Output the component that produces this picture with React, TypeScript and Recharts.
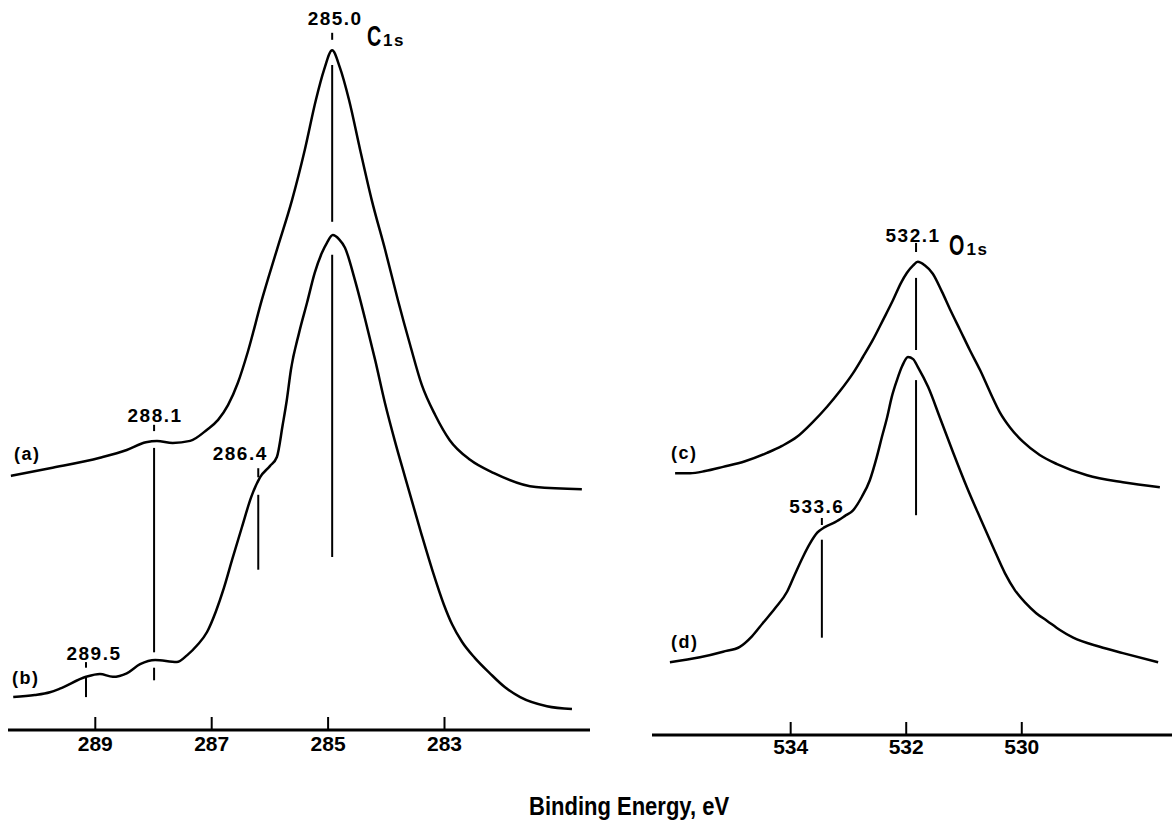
import { LineChart, Line, XAxis, YAxis, ReferenceLine } from 'recharts';

// XPS spectra, binding energy (eV) vs intensity (arb. units, 0-100)
// C 1s region
const curveA: [number, number][] = [
  [290.45, 36.3], [289.78, 37.4], [288.92, 38.9], [288.46, 40.0], [288.13, 41.1],
  [287.94, 41.3], [287.67, 41.0], [287.37, 41.3], [287.08, 42.9], [286.89, 44.3],
  [286.72, 46.4], [286.55, 49.6], [286.38, 54.0], [286.14, 61.4], [285.88, 68.6],
  [285.62, 75.7], [285.4, 82.9], [285.21, 90.0], [285.07, 94.3], [284.93, 97.1],
  [284.8, 94.7], [284.64, 90.0], [284.45, 82.9], [284.25, 75.7], [284.02, 68.6],
  [283.8, 61.4], [283.59, 55.0], [283.39, 49.3], [283.16, 45.0], [282.91, 41.4],
  [282.56, 38.6], [282.15, 36.7], [281.43, 34.7], [280.64, 34.4],
];
const curveB: [number, number][] = [
  [290.41, 4.7], [290.04, 5.0], [289.78, 5.4], [289.61, 5.9], [289.16, 7.6],
  [288.92, 8.0], [288.7, 7.6], [288.46, 8.1], [288.23, 9.4], [287.97, 10.0],
  [287.6, 9.7], [287.42, 10.7], [287.25, 12.1], [287.08, 14.0], [286.93, 16.9],
  [286.79, 20.3], [286.65, 24.3], [286.48, 29.0], [286.32, 33.3], [286.17, 36.1],
  [286.0, 37.7], [285.88, 39.0], [285.78, 43.6], [285.71, 47.1], [285.64, 51.4],
  [285.5, 56.7], [285.36, 61.1], [285.23, 65.3], [285.11, 68.1], [285.02, 69.6],
  [284.92, 70.7], [284.81, 70.1], [284.71, 68.9], [284.54, 64.3], [284.37, 58.9],
  [284.19, 52.8], [284.02, 46.6], [283.85, 41.2], [283.68, 36.2], [283.4, 28.1],
  [283.2, 22.6], [283.01, 17.9], [282.87, 15.1], [282.7, 12.6], [282.48, 10.3],
  [282.22, 8.1], [281.96, 6.1], [281.7, 4.7], [281.24, 3.4], [280.81, 3.0],
];
// O 1s region
const curveC: [number, number][] = [
  [536.0, 37.4], [535.74, 37.4], [535.48, 37.7], [535.17, 38.3], [534.79, 39.1],
  [534.41, 40.3], [534.15, 41.3], [533.89, 42.6], [533.63, 44.6], [533.37, 46.9],
  [533.15, 49.1], [532.92, 51.7], [532.75, 54.0], [532.58, 56.4], [532.4, 59.3],
  [532.23, 62.1], [532.09, 64.6], [531.99, 66.0], [531.88, 67.1], [531.8, 67.6],
  [531.68, 67.1], [531.54, 65.9], [531.38, 63.3], [531.23, 60.6], [531.07, 57.9],
  [530.9, 55.0], [530.72, 52.1], [530.55, 49.0], [530.38, 46.1], [530.2, 43.9],
  [529.98, 41.9], [529.69, 40.0], [529.39, 38.7], [528.87, 37.1], [528.25, 36.1],
  [527.61, 35.4],
];
const curveD: [number, number][] = [
  [536.09, 10.4], [535.57, 11.1], [535.17, 11.9], [534.88, 12.6], [534.67, 14.1],
  [534.48, 16.0], [534.27, 18.1], [534.06, 20.5], [533.93, 22.9], [533.79, 25.4],
  [533.67, 27.3], [533.54, 28.9], [533.41, 29.7], [533.23, 30.4], [533.06, 31.3],
  [532.92, 32.1], [532.77, 34.0], [532.63, 36.4], [532.51, 39.7], [532.42, 42.6],
  [532.33, 45.4], [532.25, 48.3], [532.16, 50.7], [532.07, 52.7], [531.97, 54.0],
  [531.88, 53.7], [531.8, 52.6], [531.62, 49.7], [531.42, 45.4], [531.19, 40.4],
  [530.95, 35.4], [530.72, 31.0], [530.5, 26.9], [530.29, 23.1], [530.12, 20.7],
  [529.94, 18.9], [529.75, 17.4], [529.56, 16.3], [529.34, 15.0], [529.11, 13.9],
  [528.65, 12.6], [528.25, 11.7], [527.64, 10.4],
];

const c1sTicks = [289, 287, 285, 283];
const o1sTicks = [534, 532, 530];
const c1sRange: [number, number] = [280.5, 290.5];
const o1sRange: [number, number] = [527.4, 536.4];

// peak markers: energy, label, vertical pieces as [from, to] intensity
const c1sMarks = [
  { e: 284.93, label: '285.0', segs: [[99.6, 98.6], [95.0, 72.6], [67.9, 24.7]] },
  { e: 287.99, label: '288.1', segs: [[43.6, 42.7], [40.3, 11.1], [8.9, 7.1]] },
  { e: 286.2, label: '286.4', segs: [[37.4, 36.1], [33.6, 22.9]] },
  { e: 289.16, label: '289.5', segs: [[9.7, 8.9], [7.6, 4.7]] },
];
const o1sMarks = [
  { e: 531.83, label: '532.1', segs: [[70.3, 69.0], [65.3, 55.0], [50.7, 31.4]] },
  { e: 533.46, label: '533.6', segs: [[31.0, 30.0], [27.9, 13.9]] },
];

// where each peak label sits relative to its tick
const labelPos: Record<string, { dx: number; gap: number }> = {
  '285.0': { dx: 3, gap: 8 },
  '288.1': { dx: 1, gap: 3 },
  '286.4': { dx: -18, gap: 8 },
  '289.5': { dx: 8, gap: 2 },
  '532.1': { dx: -3, gap: 1 },
  '533.6': { dx: -5, gap: 5 },
};

const FONT = '"Liberation Sans", Arial, Helvetica, sans-serif';

const toRows = (pts: [number, number][]) => pts.map(([e, v]) => ({ e, v }));

const NoTick = () => null;

function PeakLabel(props: any) {
  const { viewBox, text } = props;
  if (!viewBox) return null;
  const p = labelPos[text] || { dx: 0, gap: 4 };
  const x = viewBox.x + (viewBox.width || 0) / 2 + p.dx;
  return (
    <text
      x={x}
      y={viewBox.y - p.gap}
      textAnchor="middle"
      fontSize={19}
      fontWeight="bold"
      letterSpacing={1.5}
      fontFamily={FONT}
      fill="#000"
    >
      {text}
    </text>
  );
}

interface PanelProps {
  width: number;
  height: number;
  margin: { top: number; right: number; bottom: number; left: number };
  range: [number, number];
  ticks: number[];
  tickMargin: number;
  curves: [number, number][][];
  marks: { e: number; label: string; segs: number[][] }[];
}

function Panel({ width, height, margin, range, ticks, tickMargin, curves, marks }: PanelProps) {
  return (
    <LineChart width={width} height={height} margin={margin}>
      <XAxis
        xAxisId="tk"
        type="number"
        dataKey="e"
        domain={range}
        reversed
        allowDataOverflow
        mirror
        ticks={ticks}
        interval={0}
        tick={<NoTick />}
        tickSize={13}
        tickLine={{ stroke: '#000', strokeWidth: 2 }}
        axisLine={{ stroke: '#000', strokeWidth: 3 }}
      />
      <XAxis
        xAxisId="lb"
        type="number"
        dataKey="e"
        domain={range}
        reversed
        allowDataOverflow
        ticks={ticks}
        interval={0}
        height={30}
        axisLine={false}
        tickLine={false}
        tickSize={0}
        tickMargin={tickMargin}
        tick={{ fill: '#000', fontSize: 21, fontWeight: 'bold', fontFamily: FONT }}
      />
      <YAxis hide type="number" domain={[0, 100]} allowDataOverflow />
      {curves.map((c, i) => (
        <Line
          key={i}
          xAxisId="lb"
          data={toRows(c)}
          dataKey="v"
          type="monotone"
          stroke="#000"
          strokeWidth={2.5}
          dot={false}
          activeDot={false}
          isAnimationActive={false}
        />
      ))}
      {marks.flatMap((m) =>
        m.segs.map((s, i) => (
          <ReferenceLine
            key={m.label + i}
            xAxisId="lb"
            segment={[{ x: m.e, y: s[0] }, { x: m.e, y: s[1] }]}
            stroke="#000"
            strokeWidth={2}
            label={i === 0 ? <PeakLabel text={m.label} /> : undefined}
          />
        ))
      )}
    </LineChart>
  );
}

function Tag({ x, y, size = 18, children }: { x: number; y: number; size?: number; children: any }) {
  return (
    <div
      style={{
        position: 'absolute',
        left: x,
        top: y,
        fontSize: size,
        lineHeight: 1,
        fontWeight: 'bold',
        fontFamily: FONT,
        letterSpacing: 1.5,
        whiteSpace: 'nowrap',
      }}
    >
      {children}
    </div>
  );
}

function Core({ x, y, big, children }: { x: number; y: number; big: string; children: any }) {
  return (
    <div
      style={{
        position: 'absolute',
        left: x,
        top: y,
        fontSize: 29,
        lineHeight: 1,
        fontWeight: 'bold',
        fontFamily: FONT,
        whiteSpace: 'nowrap',
      }}
    >
      <span
        style={{
          display: 'inline-block',
          transform: 'scaleX(0.68)',
          transformOrigin: 'left bottom',
          marginRight: -5,
        }}
      >
        {big}
      </span>
      <span style={{ fontSize: 17, letterSpacing: 1.5 }}>{children}</span>
    </div>
  );
}

export default function App() {
  return (
    <div style={{ position: 'relative', width: 1172, height: 832, overflow: 'hidden', background: '#fff' }}>
      <style>{'body{margin:0}'}</style>
      <div style={{ position: 'absolute', left: 0, top: 0 }}>
        <Panel
          width={600}
          height={765}
          margin={{ top: 30, right: 10, bottom: 5, left: 8 }}
          range={c1sRange}
          ticks={c1sTicks}
          tickMargin={6}
          curves={[curveA, curveB]}
          marks={c1sMarks}
        />
      </div>
      <div style={{ position: 'absolute', left: 644, top: 0 }}>
        <Panel
          width={528}
          height={770}
          margin={{ top: 35, right: 0, bottom: 5, left: 8 }}
          range={o1sRange}
          ticks={o1sTicks}
          tickMargin={4}
          curves={[curveC, curveD]}
          marks={o1sMarks}
        />
      </div>

      <Tag x={14} y={445}>(a)</Tag>
      <Tag x={12} y={669}>(b)</Tag>
      <Tag x={671} y={444}>(c)</Tag>
      <Tag x={671} y={633}>(d)</Tag>

      <Core x={367} y={22} big="C">1s</Core>
      <Core x={949} y={231} big="O">1s</Core>

      <div
        style={{
          position: 'absolute',
          left: 529,
          top: 794,
          fontSize: 25,
          lineHeight: 1,
          fontWeight: 'bold',
          fontFamily: FONT,
          whiteSpace: 'nowrap',
          transform: 'scaleX(0.88)',
          transformOrigin: 'left top',
        }}
      >
        Binding Energy, eV
      </div>
    </div>
  );
}
